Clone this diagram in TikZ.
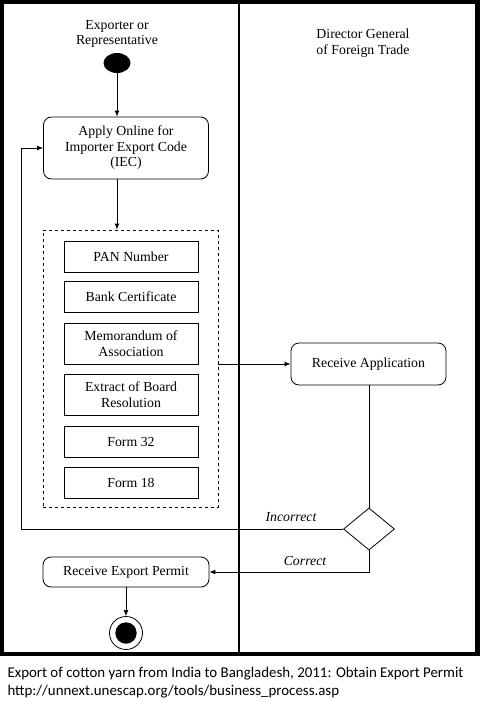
\documentclass[tikz,border=0pt]{standalone}
\usepackage{fontspec}
\setmainfont{Liberation Serif}
\newfontfamily\capfont{Carlito}
\usepackage{tikz}
\usetikzlibrary{arrows.meta}
\usetikzlibrary{calc}
\usetikzlibrary{shapes.geometric,positioning}

\begin{document}
\begin{tikzpicture}[x=1pt, y=-1pt, >={Latex[length=6pt,width=5pt]},
    every node/.style={font=\fontsize{13.8}{15.5}\selectfont, align=center},
    act/.style={draw, rounded corners=8pt, line width=0.8pt, inner sep=2pt},
    doc/.style={draw, line width=0.8pt, minimum width=134, inner sep=2pt},
    lab/.style={font=\fontsize{13.8}{15.5}\selectfont\itshape},
    flow/.style={->, line width=0.9pt}]
      \useasboundingbox (0,0) rectangle (482,704);

      % frame and lanes
      \draw[line width=4.2pt] (2,2) rectangle (477.5,654);
      \draw[line width=2.2pt] (239.3,2) -- (239.3,654);
      \node (lane1) at (117,34) {Exporter or\\Representative};
      \node (lane2) at (363,43) {Director General\\of Foreign Trade};

      % start
      \node[ellipse, fill=black, minimum width=27, minimum height=20, inner sep=0pt]
      (start) at (117,63) {};

      % actions
      \node[act, minimum width=165, minimum height=62] (apply) at (126,148)
      {Apply Online for\\Importer Export Code\\(IEC)};
      \node[draw, dashed, line width=0.8pt, minimum width=175, minimum height=277]
      (docs) at (130.5,368.5) {};
      \node[act, minimum width=155, minimum height=42] (recv) at (368.5,364)
      {Receive Application};
      \node[diamond, draw, line width=0.8pt, minimum width=51, minimum height=42,
      aspect=1.2, inner sep=0pt] (dec) at (369,529) {};
      \node[act, minimum width=166, minimum height=30] (permit) at (126,572)
      {Receive Export Permit};

      % documents
      \node[doc, minimum height=31] (pan) at (131,256.5) {PAN Number};
      \node[doc, minimum height=31] (bank) at (131,296.5) {Bank Certificate};
      \node[doc, minimum height=41] (memo) at (131,343.5) {Memorandum of\\Association};
      \node[doc, minimum height=41] (board) at (131,394.5) {Extract of Board\\Resolution};
      \node[doc, minimum height=31] (f32) at (131,441.5) {Form 32};
      \node[doc, minimum height=31] (f18) at (131,483) {Form 18};

      % end
      \node[circle, draw, line width=0.8pt, minimum size=33, inner sep=0pt]
      (finish) at (126,633) {};
      \fill (finish) circle (10.7);

      % flows
      \draw[flow] (start) -- (start |- apply.north);
      \draw[flow] (apply.south -| start) -- (start |- docs.north);
      \draw[flow] (docs.east |- recv) -- (recv);
      \draw[line width=0.8pt] (recv.south -| dec) -- (dec.north);
      \draw[flow] (dec.west) -| ([xshift=-22pt]apply.west) -- (apply.west);
      \draw[flow] (dec.south) |- (permit.east);
      \draw[flow] (permit) -- (finish);

      % labels
      \node[lab] (inc) at (291,517) {Incorrect};
      \node[lab] (cor) at (305,561) {Correct};

      % caption
      \node[anchor=west, align=left, font=\capfont\fontsize{14.9}{18}\selectfont]
      (cap) at (4,683) {Export of cotton yarn from India to Bangladesh, 2011:
      Obtain Export Permit\\http://unnext.unescap.org/tools/business\_process.asp};
    \end{tikzpicture}
\end{document}
